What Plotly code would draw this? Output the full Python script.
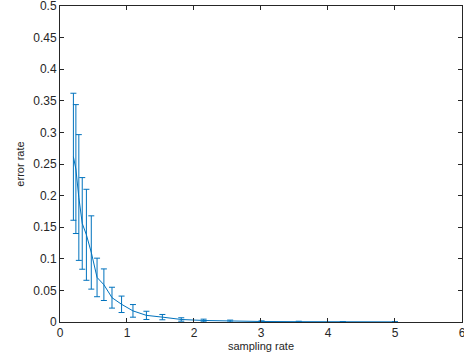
import plotly.graph_objects as go

sampling_rate = [0.2, 0.237, 0.281, 0.332, 0.394, 0.467, 0.553, 0.655, 0.776, 0.919,
                 1.089, 1.29, 1.528, 1.81, 2.144, 2.54, 3.009, 3.564, 4.222, 5.0]
error_mean = [0.2615, 0.242, 0.197, 0.156, 0.138, 0.110, 0.0705, 0.059, 0.0385, 0.028,
              0.0176, 0.0105, 0.0077, 0.004, 0.0024, 0.0015, 0.0008, 0.0005, 0.0003, 0.0002]
error_std = [0.1005, 0.102, 0.0995, 0.0725, 0.072, 0.058, 0.0305, 0.025, 0.0165, 0.013,
             0.010, 0.0065, 0.0042, 0.0027, 0.0021, 0.0015, 0.001, 0.0007, 0.0005, 0.0003]

x_ticks = [0, 1, 2, 3, 4, 5, 6]
y_ticks = [0, 0.05, 0.1, 0.15, 0.2, 0.25, 0.3, 0.35, 0.4, 0.45, 0.5]
y_tick_labels = ["0", "0.05", "0.1", "0.15", "0.2", "0.25", "0.3", "0.35", "0.4", "0.45", "0.5"]

blue = "#0072BD"
axis_col = "#262626"

fig = go.Figure()
fig.add_trace(go.Scatter(
    x=sampling_rate, y=error_mean, mode="lines",
    line=dict(color=blue, width=1),
    error_y=dict(type="data", array=error_std, visible=True,
                 color=blue, thickness=1, width=3),
    showlegend=False,
))

font = "Liberation Sans, Arial, Helvetica, sans-serif"
fig.update_layout(
    width=464, height=360,
    margin=dict(l=60, r=2, t=6, b=38),
    paper_bgcolor="white", plot_bgcolor="white",
    font=dict(family=font, size=12, color=axis_col),
)
fig.update_xaxes(
    range=[0, 6.0005], tickvals=x_ticks, ticktext=[str(v) for v in x_ticks],
    automargin=False, ticklabeloverflow="allow",
    showgrid=False, zeroline=False, showline=True, linecolor=axis_col, linewidth=1,
    mirror="ticks", ticks="inside", ticklen=4, tickcolor=axis_col,
    title=dict(text="sampling rate", font=dict(size=11), standoff=2),
    tickfont=dict(size=12),
)
fig.update_yaxes(
    range=[0, 0.50005], tickvals=y_ticks, ticktext=y_tick_labels,
    automargin=False, ticklabeloverflow="allow",
    showgrid=False, zeroline=False, showline=True, linecolor=axis_col, linewidth=1,
    mirror="ticks", ticks="inside", ticklen=4, tickcolor=axis_col,
    title=dict(text="error rate", font=dict(size=11), standoff=6),
    tickfont=dict(size=12),
)

fig.write_html(
    "out.html",
    config={"displayModeBar": False},
    post_script="document.body.style.margin='0';document.body.style.overflow='hidden';",
)
